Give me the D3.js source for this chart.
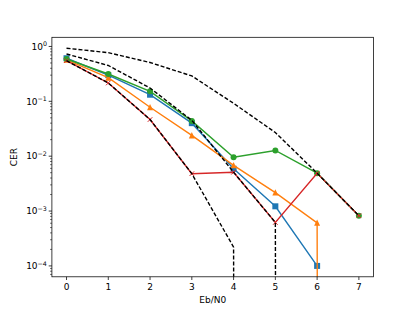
<!DOCTYPE html>
<html>
<head>
<meta charset="UTF-8">
<style>
    body { margin: 0; background: #fff; }
    text { font-family: "DejaVu Sans", sans-serif; fill: #000; }
</style>
<script src="https://cdn.jsdelivr.net/npm/d3@7"></script>
</head>
<body>
<script>
    // Data, 0 = value clipped below the log axis
    var ebn0 = [0, 1, 2, 3, 4, 5, 6, 7];
    var cerBlue   = [0.61, 0.30, 0.132, 0.040, 5.9e-3, 1.22e-3, 1.0e-4];
    var cerOrange = [0.57, 0.27, 0.078, 0.0239, 6.8e-3, 2.17e-3, 6.1e-4, 0];
    var cerGreen  = [0.59, 0.315, 0.152, 0.044, 9.6e-3, 0.0127, 4.9e-3, 8.2e-4];
    var cerRed    = [0.55, 0.216, 0.0466, 4.8e-3, 5.1e-3, 6.2e-4, 4.9e-3, 8.2e-4];
    var boundA    = [0.93, 0.77, 0.51, 0.29, 0.092, 0.027, 4.9e-3, 8.2e-4];
    var boundB    = [0.73, 0.45, 0.175, 0.045, 5.1e-3, 6.2e-4, 0];
    var boundC    = [0.55, 0.216, 0.0466, 4.8e-3, 2.2e-4, 0];
    var xTicks = [0, 1, 2, 3, 4, 5, 6, 7];
    var yTicks = [0, -1, -2, -3, -4];   // exponents

    var series = [
        {values: cerBlue,   color: "#1f77b4", marker: "square"},
        {values: cerOrange, color: "#ff7f0e", marker: "triangle"},
        {values: cerGreen,  color: "#2ca02c", marker: "circle"},
        {values: cerRed,    color: "#d62728", marker: "x"},
        {values: boundA, color: "#000", dash: true},
        {values: boundB, color: "#000", dash: true},
        {values: boundC, color: "#000", dash: true}
    ];

    // Figure / axes box (matplotlib default layout)
    var W = 415, H = 311;
    var axL = 51.9, axR = 373.5, axT = 37.3, axB = 276.8;

    // x domain with 5% margins
    var x = d3.scaleLinear().domain([-0.35, 7.35]).range([axL, axR]);

    // y domain: log of positive data with 5% margins
    var pos = [];
    series.forEach(function(s) { s.values.forEach(function(v) { if (v > 0) pos.push(Math.log10(v)); }); });
    var lo = d3.min(pos), hi = d3.max(pos), m = (hi - lo) * 0.05;
    var y = d3.scaleLog().domain([Math.pow(10, lo - m), Math.pow(10, hi + m)]).range([axB, axT]);

    function yv(v) { return v > 0 ? y(v) : y(1e-300); }

    var svg = d3.select("body").append("svg")
        .attr("width", W).attr("height", H);
    svg.append("rect").attr("width", W).attr("height", H).attr("fill", "#fff");

    svg.append("clipPath").attr("id", "clip")
        .append("rect").attr("x", axL).attr("y", axT)
        .attr("width", axR - axL).attr("height", axB - axT);

    var plot = svg.append("g").attr("clip-path", "url(#clip)");

    var line = d3.line()
        .x(function(d, i) { return x(ebn0[i]); })
        .y(function(d) { return yv(d); });

    series.forEach(function(s) {
        plot.append("path")
            .attr("d", line(s.values))
            .attr("fill", "none")
            .attr("stroke", s.color)
            .attr("stroke-width", 1.4)
            .attr("stroke-dasharray", s.dash ? "4,2" : null);

        if (!s.marker) return;
        var pts = s.values.map(function(v, i) { return {x: ebn0[i], v: v}; })
            .filter(function(p) { return p.v > 0; });
        var g = plot.selectAll(null).data(pts).enter().append("g")
            .attr("transform", function(p) { return "translate(" + x(p.x) + "," + y(p.v) + ")"; });
        var r = 3;
        if (s.marker == "square") {
            g.append("rect").attr("x", -r).attr("y", -r).attr("width", 2 * r).attr("height", 2 * r)
                .attr("fill", s.color);
        } else if (s.marker == "circle") {
            g.append("circle").attr("r", r).attr("fill", s.color);
        } else if (s.marker == "triangle") {
            g.append("path").attr("d", "M0," + (-r - 0.3) + "L" + r + "," + r + "L" + (-r) + "," + r + "Z")
                .attr("fill", s.color);
        } else {
            var k = 2.3;
            g.append("path").attr("d", "M" + (-k) + "," + (-k) + "L" + k + "," + k + "M" + (-k) + "," + k + "L" + k + "," + (-k))
                .attr("stroke", s.color).attr("stroke-width", 1);
        }
    });

    // Frame
    svg.append("rect")
        .attr("x", axL).attr("y", axT)
        .attr("width", axR - axL).attr("height", axB - axT)
        .attr("fill", "none").attr("stroke", "#000").attr("stroke-width", 0.75);

    // x axis
    var xa = svg.append("g");
    xTicks.forEach(function(t) {
        xa.append("line").attr("x1", x(t)).attr("x2", x(t))
            .attr("y1", axB).attr("y2", axB + 3.2)
            .attr("stroke", "#000").attr("stroke-width", 0.75);
        xa.append("text").attr("x", x(t)).attr("y", axB + 13.5)
            .attr("text-anchor", "middle").style("font-size", "9px").text(t);
    });
    svg.append("text").attr("x", (axL + axR) / 2).attr("y", 303)
        .attr("text-anchor", "middle").style("font-size", "9px").text("Eb/N0");

    // y axis, major and minor ticks
    var ya = svg.append("g");
    var dom = y.domain();
    for (var e = Math.floor(Math.log10(dom[0])); e <= Math.ceil(Math.log10(dom[1])); e++) {
        for (var k = 2; k <= 9; k++) {
            var v = k * Math.pow(10, e);
            if (v < dom[0] || v > dom[1]) continue;
            ya.append("line").attr("x1", axL - 1.8).attr("x2", axL)
                .attr("y1", y(v)).attr("y2", y(v))
                .attr("stroke", "#000").attr("stroke-width", 0.6);
        }
    }
    yTicks.forEach(function(e) {
        var v = Math.pow(10, e);
        ya.append("line").attr("x1", axL - 3.2).attr("x2", axL)
            .attr("y1", y(v)).attr("y2", y(v))
            .attr("stroke", "#000").attr("stroke-width", 0.75);
        var t = ya.append("text").attr("x", axL - 5).attr("y", y(v) + 3.3)
            .attr("text-anchor", "end").style("font-size", "9px");
        t.append("tspan").text("10");
        t.append("tspan").attr("dy", -3.6).style("font-size", "6.3px")
            .text(e == 0 ? "0" : "\u2212" + (-e));
    });
    svg.append("text")
        .attr("transform", "translate(17," + ((axT + axB) / 2) + ") rotate(-90)")
        .attr("text-anchor", "middle").style("font-size", "9px").text("CER");
</script>
</body>
</html>
